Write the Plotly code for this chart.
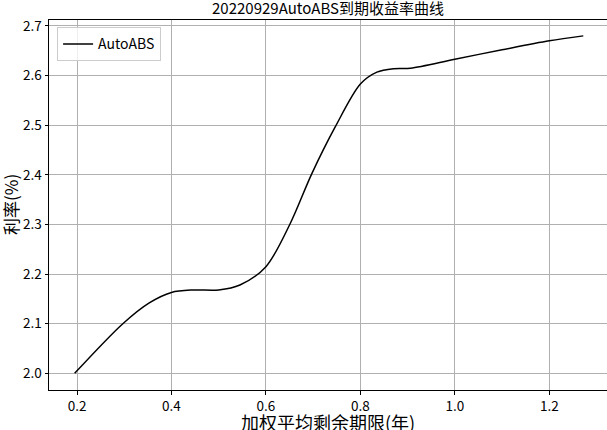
import plotly.graph_objects as go

x_term = [0.195, 0.297, 0.353, 0.40, 0.445, 0.50, 0.545, 0.60, 0.651,
          0.697, 0.747, 0.80, 0.835, 0.871, 0.906, 1.0, 1.1, 1.2, 1.272]
y_rate = [2.0, 2.1, 2.142, 2.163, 2.168, 2.168, 2.178, 2.215, 2.301,
          2.402, 2.497, 2.583, 2.607, 2.614, 2.615, 2.633, 2.652, 2.670, 2.680]
series_name = "AutoABS"
title = "20220929AutoABS到期收益率曲线"
x_label = "加权平均剩余期限(年)"
y_label = "利率(%)"
x_ticks = [0.2, 0.4, 0.6, 0.8, 1.0, 1.2]
y_ticks = [2.0, 2.1, 2.2, 2.3, 2.4, 2.5, 2.6, 2.7]

FONT = "Noto Sans CJK SC, DejaVu Sans, sans-serif"

fig = go.Figure()
fig.add_trace(go.Scatter(
    x=x_term, y=y_rate, mode="lines", name=series_name,
    line=dict(color="black", width=1.5, shape="spline", smoothing=0.9),
))

axis_common = dict(
    showline=True, linecolor="black", linewidth=1, mirror=True,
    ticks="outside", ticklen=3.5, tickwidth=0.8, tickcolor="black",
    showgrid=True, gridcolor="#b0b0b0", gridwidth=0.8,
    zeroline=False, automargin=False,
    tickfont=dict(size=13.5, color="black", family=FONT),
)

fig.update_layout(
    width=607, height=430,
    margin=dict(l=49, r=0, t=20, b=40, autoexpand=False),
    paper_bgcolor="white", plot_bgcolor="white",
    font=dict(family=FONT, color="black"),
    title=dict(text=title, x=0.5, xref="paper", xanchor="center",
               y=1 - 9 / 430, yref="container", yanchor="middle",
               font=dict(size=15, family=FONT, color="black")),
    xaxis=dict(range=[0.1407, 1.3222], tickvals=x_ticks,
               ticktext=[f"{v:.1f}" for v in x_ticks], **axis_common),
    yaxis=dict(range=[1.9664, 2.712], tickvals=y_ticks,
               ticktext=[f"{v:.1f}" for v in y_ticks], **axis_common),
    showlegend=True,
    legend=dict(x=0.0145, y=0.98, xanchor="left", yanchor="top",
                bgcolor="rgba(255,255,255,0.8)", bordercolor="#cccccc", borderwidth=1,
                font=dict(size=14, family=FONT, color="black")),
    annotations=[
        dict(text=x_label, xref="paper", yref="paper", x=0.5, y=-32/370,
             xanchor="center", yanchor="middle", showarrow=False,
             font=dict(size=18, family=FONT, color="black")),
        dict(text=y_label, xref="paper", yref="paper", x=-39/558, y=0.5,
             xanchor="center", yanchor="middle", showarrow=False, textangle=-90,
             font=dict(size=17, family=FONT, color="black")),
    ],
)

fig.write_html("out.html", config={"displayModeBar": False},
               post_script="document.body.style.margin='0';")
